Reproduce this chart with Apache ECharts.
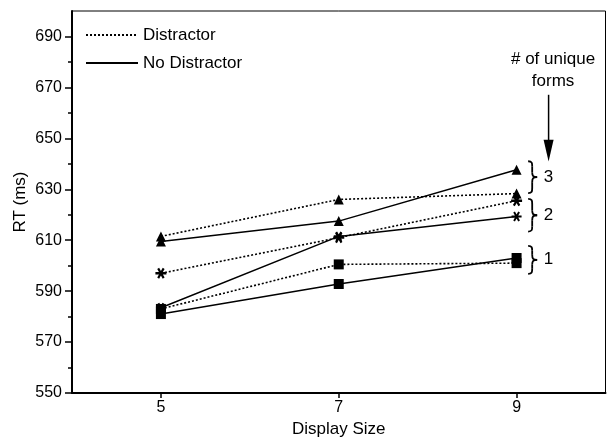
<!DOCTYPE html>
<html><head><meta charset="utf-8">
<script src="https://cdn.jsdelivr.net/npm/echarts@6/dist/echarts.min.js"></script>
<style>html,body{margin:0;padding:0;background:#fff}#c{width:612px;height:441px}</style>
</head><body><div id="c"></div>
<script>
// ---- data ----
const displaySizes = [5, 7, 9];
const xTickValues = [5, 7, 9];
const yTickLabels = [550, 570, 590, 610, 630, 650, 670, 690];
const yMinorTicks = [560, 580, 600, 620, 640, 660, 680];
const distractor3 = [611.5, 626, 628.3];
const noDistractor3 = [609.5, 617.5, 637.7];
const distractor2 = [597, 611, 625.5];
const noDistractor2 = [583.5, 611.5, 619.3];
const distractor1 = [583, 600.5, 601];
const noDistractor1 = [581, 592.8, 603];
const legendNames = ['Distractor', 'No Distractor'];
const braceLabels = ['3', '2', '1'];
const braceRanges = [[641, 628.5], [626.2, 613.4], [607.8, 596.8]];
const annotationTitle = ['# of unique', 'forms'];

const FONT = 'Liberation Sans, Arial, Helvetica, sans-serif';
const asterisk = 'path://M0,8L20,8L20,12L0,12Z M3.3,2.8L6.7,0.8L16.7,17.2L13.3,19.2Z M13.3,0.8L16.7,2.8L6.7,19.2L3.3,17.2Z';

const chart = echarts.init(document.getElementById('c'), null, {renderer: 'canvas'});

function mk(name, vals, dotted, symbol, size) {
  return {
    type: 'line', name: name,
    data: displaySizes.map((x, i) => [x, vals[i]]),
    symbol: symbol, symbolSize: size, showSymbol: true,
    lineStyle: {color: '#000', width: dotted ? 1.6 : 1.5, type: dotted ? [2, 2] : 'solid'},
    itemStyle: {color: '#000', borderWidth: 0},
    emphasis: {disabled: true},
    silent: true
  };
}
function dummy(name, dotted) {
  return {
    type: 'line', name: name, data: [], symbol: 'none',
    lineStyle: {color: '#000', width: dotted ? 1.6 : 1.5, type: dotted ? [2, 2] : 'solid'},
    itemStyle: {color: '#000'}
  };
}

const axisText = {color: '#000', fontSize: 16, fontFamily: FONT};

chart.setOption({
  animation: false,
  backgroundColor: '#fff',
  grid: {left: 72, right: 6.5, top: 11, bottom: 48, containLabel: false, outerBoundsMode: 'none',
         show: true, borderColor: '#000', borderWidth: 1},
  legend: {
    data: legendNames, orient: 'vertical', left: 80, top: 20, itemWidth: 52, itemHeight: 14, itemGap: 8,
    selectedMode: false,
    itemStyle: {opacity: 0},
    lineStyle: {opacity: 1},
    textStyle: {fontSize: 17, color: '#000', fontFamily: FONT, lineHeight: 20}
  },
  xAxis: {
    type: 'value', min: 4, max: 10,
    name: 'Display Size', nameLocation: 'middle', nameGap: 28, nameMoveOverlap: false,
    nameTextStyle: {color: '#000', fontSize: 17, fontFamily: FONT},
    axisLine: {show: true, lineStyle: {color: '#000', width: 2}},
    axisTick: {show: true, customValues: xTickValues, length: 5, lineStyle: {color: '#000', width: 1.5}},
    axisLabel: Object.assign({customValues: xTickValues, margin: 7}, axisText),
    splitLine: {show: false}
  },
  yAxis: [{
    type: 'value', min: 550, max: 700, interval: 20,
    name: 'RT (ms)', nameLocation: 'middle', nameGap: 43, nameMoveOverlap: false,
    nameTextStyle: {color: '#000', fontSize: 17, fontFamily: FONT},
    axisLine: {show: true, lineStyle: {color: '#000', width: 2}},
    axisTick: {show: true, customValues: yTickLabels, length: 7, lineStyle: {color: '#000', width: 1.5}},
    axisLabel: Object.assign({customValues: yTickLabels, margin: 10}, axisText),
    splitLine: {show: false}
  }, {
    type: 'value', min: 550, max: 700, position: 'left', offset: 0,
    axisLine: {show: false},
    axisTick: {show: true, customValues: yMinorTicks, length: 4, lineStyle: {color: '#000', width: 1.5}},
    axisLabel: {show: false},
    splitLine: {show: false}
  }],
  series: [
    dummy(legendNames[0], true),
    dummy(legendNames[1], false),
    mk('Distractor 3', distractor3, true, 'triangle', 10),
    mk('No Distractor 3', noDistractor3, false, 'triangle', 10),
    mk('Distractor 2', distractor2, true, asterisk, 11),
    mk('No Distractor 2', noDistractor2, false, asterisk, 10),
    mk('Distractor 1', distractor1, true, 'rect', 10),
    mk('No Distractor 1', noDistractor1, false, 'rect', 10)
  ]
});

// ---- annotations (arrow, braces, labels) placed via the axis scales ----
function px(x, y) { return chart.convertToPixel({xAxisIndex: 0, yAxisIndex: 0}, [x, y]); }
const g = [];
const stroke = {stroke: '#000', lineWidth: 1.8, fill: 'none'};
braceRanges.forEach((r, i) => {
  const a = px(9.13, r[0]), b = px(9.13, r[1]);
  const x0 = a[0], y1 = a[1], y2 = b[1], ym = (y1 + y2) / 2;
  const w = 9, xm = x0 + w * 0.45, xp = x0 + w, d = 5;
  g.push({type: 'bezierCurve', shape: {x1: x0, y1: y1, cpx1: xm, cpy1: y1, cpx2: xm, cpy2: y1 + 2, x2: xm, y2: y1 + d}, style: stroke, silent: true});
  g.push({type: 'line', shape: {x1: xm, y1: y1 + d, x2: xm, y2: ym - d}, style: stroke, silent: true});
  g.push({type: 'bezierCurve', shape: {x1: xm, y1: ym - d, cpx1: xm, cpy1: ym - 1, cpx2: xm + 1, cpy2: ym, x2: xp, y2: ym}, style: stroke, silent: true});
  g.push({type: 'bezierCurve', shape: {x1: xp, y1: ym, cpx1: xm + 1, cpy1: ym, cpx2: xm, cpy2: ym + 1, x2: xm, y2: ym + d}, style: stroke, silent: true});
  g.push({type: 'line', shape: {x1: xm, y1: ym + d, x2: xm, y2: y2 - d}, style: stroke, silent: true});
  g.push({type: 'bezierCurve', shape: {x1: xm, y1: y2 - d, cpx1: xm, cpy1: y2 - 2, cpx2: xm, cpy2: y2, x2: x0, y2: y2}, style: stroke, silent: true});
  const lp = px(9.36, (r[0] + r[1]) / 2);
  g.push({type: 'text', x: lp[0], y: lp[1], silent: true,
    style: {text: braceLabels[i], fill: '#000', font: '17px ' + FONT, textAlign: 'center', textVerticalAlign: 'middle'}});
});
// arrow
const aTop = px(9.36, 667.1), aBase = px(9.36, 649.4), aTip = px(9.36, 640.9);
g.push({type: 'line', shape: {x1: aTop[0], y1: aTop[1], x2: aBase[0], y2: aBase[1] + 2}, style: {stroke: '#000', lineWidth: 1.5}, silent: true});
g.push({type: 'polygon', shape: {points: [[aBase[0] - 5, aBase[1]], [aBase[0] + 5, aBase[1]], [aTip[0], aTip[1]]]}, style: {fill: '#000'}, silent: true});
const t1 = px(9.41, 681.2), t2 = px(9.41, 672.5);
g.push({type: 'text', x: t1[0], y: t1[1], silent: true,
  style: {text: annotationTitle[0], fill: '#000', font: '17px ' + FONT, textAlign: 'center', textVerticalAlign: 'middle'}});
g.push({type: 'text', x: t2[0], y: t2[1], silent: true,
  style: {text: annotationTitle[1], fill: '#000', font: '17px ' + FONT, textAlign: 'center', textVerticalAlign: 'middle'}});
chart.setOption({graphic: {elements: g}});
</script>
</body></html>
